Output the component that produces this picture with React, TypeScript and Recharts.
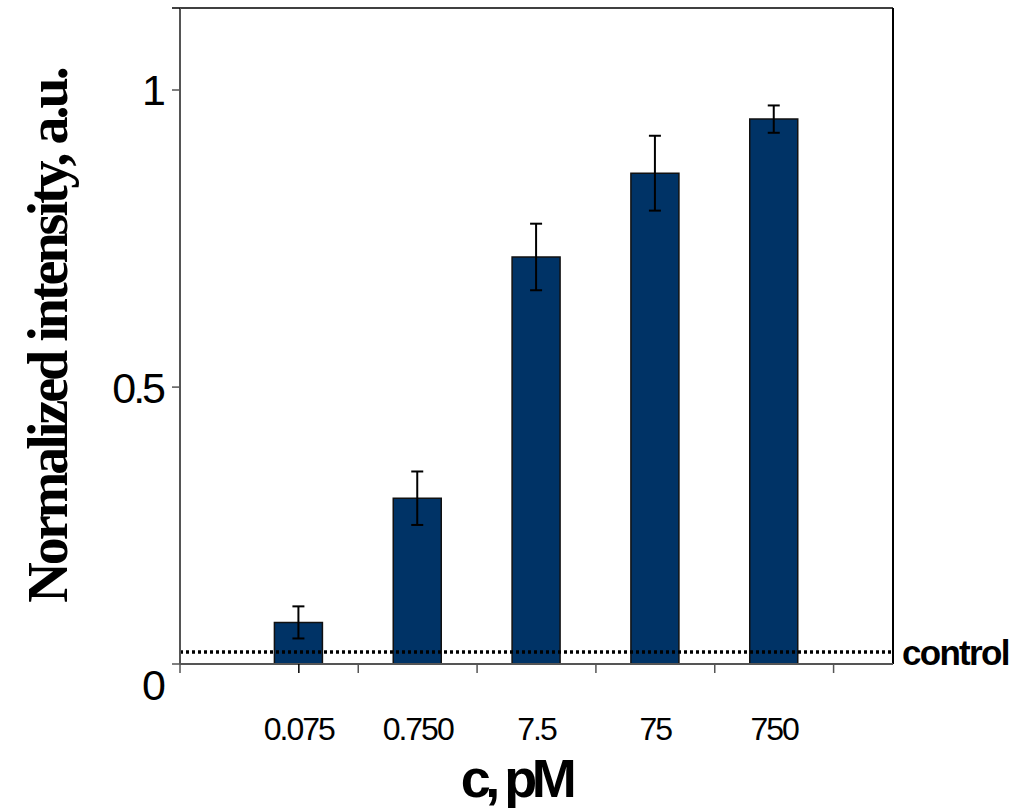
import { BarChart, Bar, XAxis, YAxis, ErrorBar, ReferenceLine, Label } from "recharts";

const concentrations = ["0.075", "0.750", "7.5", "75", "750"];
const positions = [1, 2, 3, 4, 5];
const intensity = [0.104, 0.313, 0.719, 0.86, 0.951];
const intensityErr = [0.027, 0.045, 0.056, 0.063, 0.023];
const controlLevel = 0.054;

const xDomain = [0, 6];
const xTickMarks = [0, 1, 1.5, 2.5, 3.5, 4.5, 5.5];
const yDomain = [0.034, 1.138];
const yTickLabels = [0, 0.5, 1];

const CHART_W = 1032;
const CHART_H = 809;

const data = positions.map((pos, i) => ({
  pos,
  label: concentrations[i],
  value: intensity[i],
  err: intensityErr[i],
}));

const xTicks = Array.from(new Set([...xTickMarks, ...positions])).sort((a, b) => a - b);
const yTicks = Array.from(new Set([...yTickLabels, ...yDomain])).sort((a, b) => a - b);

const sans = "'Liberation Sans', Arial, sans-serif";

function XTick({ x, y, payload }: any) {
  const v = payload.value;
  const idx = positions.indexOf(v);
  return (
    <g>
      {xTickMarks.includes(v) && (
        <line x1={x} x2={x} y1={y - 9} y2={y} stroke={v === 1 ? "#000" : "#555"} strokeWidth={1.5} />
      )}
      {idx >= 0 && (
        <text x={x} y={y + 67} textAnchor="middle" fontFamily={sans} fontSize={32} letterSpacing={-2} fill="#000">
          {concentrations[idx]}
        </text>
      )}
    </g>
  );
}

function YTick({ x, y, payload }: any) {
  const v = payload.value;
  const inside = v >= yDomain[0] && v <= yDomain[1];
  return (
    <g>
      {inside && (
        <line x1={x} x2={x + 8} y1={y} y2={y} stroke={v === yDomain[1] ? "#000" : "#555"} strokeWidth={1.5} />
      )}
      {yTickLabels.includes(v) && (
        <text x={x - 9} y={y} dy="0.36em" textAnchor="end" fontFamily={sans} fontSize={43} letterSpacing={-3} fill="#000">
          {String(v)}
        </text>
      )}
    </g>
  );
}

export default function App() {
  return (
    <div style={{ position: "absolute", left: 0, top: 0, width: CHART_W, height: CHART_H, background: "#fff" }}>
      <BarChart width={CHART_W} height={CHART_H} data={data} margin={{ top: 8, right: 139, bottom: 0, left: 0 }}>
        <XAxis
          type="number"
          dataKey="pos"
          domain={xDomain}
          allowDataOverflow
          ticks={xTicks}
          interval={0}
          tick={<XTick />}
          tickLine={false}
          tickSize={9}
          tickMargin={0}
          height={145}
          axisLine={{ stroke: "#555", strokeWidth: 2 }}
        >
          <Label
            content={({ viewBox }: any) => (
              <text
                x={CHART_W / 2}
                y={viewBox.y + 133}
                textAnchor="middle"
                fontFamily={sans}
                fontWeight="bold"
                fontSize={54}
                letterSpacing={-5.5}
                fill="#000"
              >
                c, pM
              </text>
            )}
          />
        </XAxis>
        <YAxis
          type="number"
          domain={yDomain}
          allowDataOverflow
          ticks={yTicks}
          interval={0}
          width={180}
          tick={<YTick />}
          tickLine={false}
          tickSize={8}
          tickMargin={0}
          axisLine={{ stroke: "#555", strokeWidth: 2 }}
        >
          <Label
            content={({ viewBox }: any) => {
              const cx = viewBox.x + 67;
              const cy = viewBox.y + viewBox.height / 2;
              return (
                <text
                  x={cx}
                  y={cy}
                  transform={`rotate(-90, ${cx}, ${cy})`}
                  textAnchor="middle"
                  fontFamily="'Liberation Serif', 'Times New Roman', serif"
                  fontWeight="bold"
                  fontSize={56}
                  letterSpacing={-3}
                  fill="#000"
                >
                  Normalized intensity, a.u.
                </text>
              );
            }}
          />
        </YAxis>
        <Bar dataKey="value" barSize={48} fill="#003366" stroke="#111" strokeWidth={1.5} isAnimationActive={false}>
          <ErrorBar dataKey="err" width={6} stroke="#000" strokeWidth={2} />
        </Bar>
        <ReferenceLine y={yDomain[1]} stroke="#000" strokeWidth={1.5} />
        <ReferenceLine x={xDomain[1]} stroke="#000" strokeWidth={2} />
        <ReferenceLine
          y={controlLevel}
          stroke="#000"
          strokeWidth={3.5}
          strokeDasharray="3 3"
          label={{
            value: "control",
            position: "right",
            offset: 9,
            fill: "#000",
            fontFamily: sans,
            fontWeight: "bold",
            fontSize: 35,
            letterSpacing: -1.7,
          }}
        />
      </BarChart>
    </div>
  );
}
